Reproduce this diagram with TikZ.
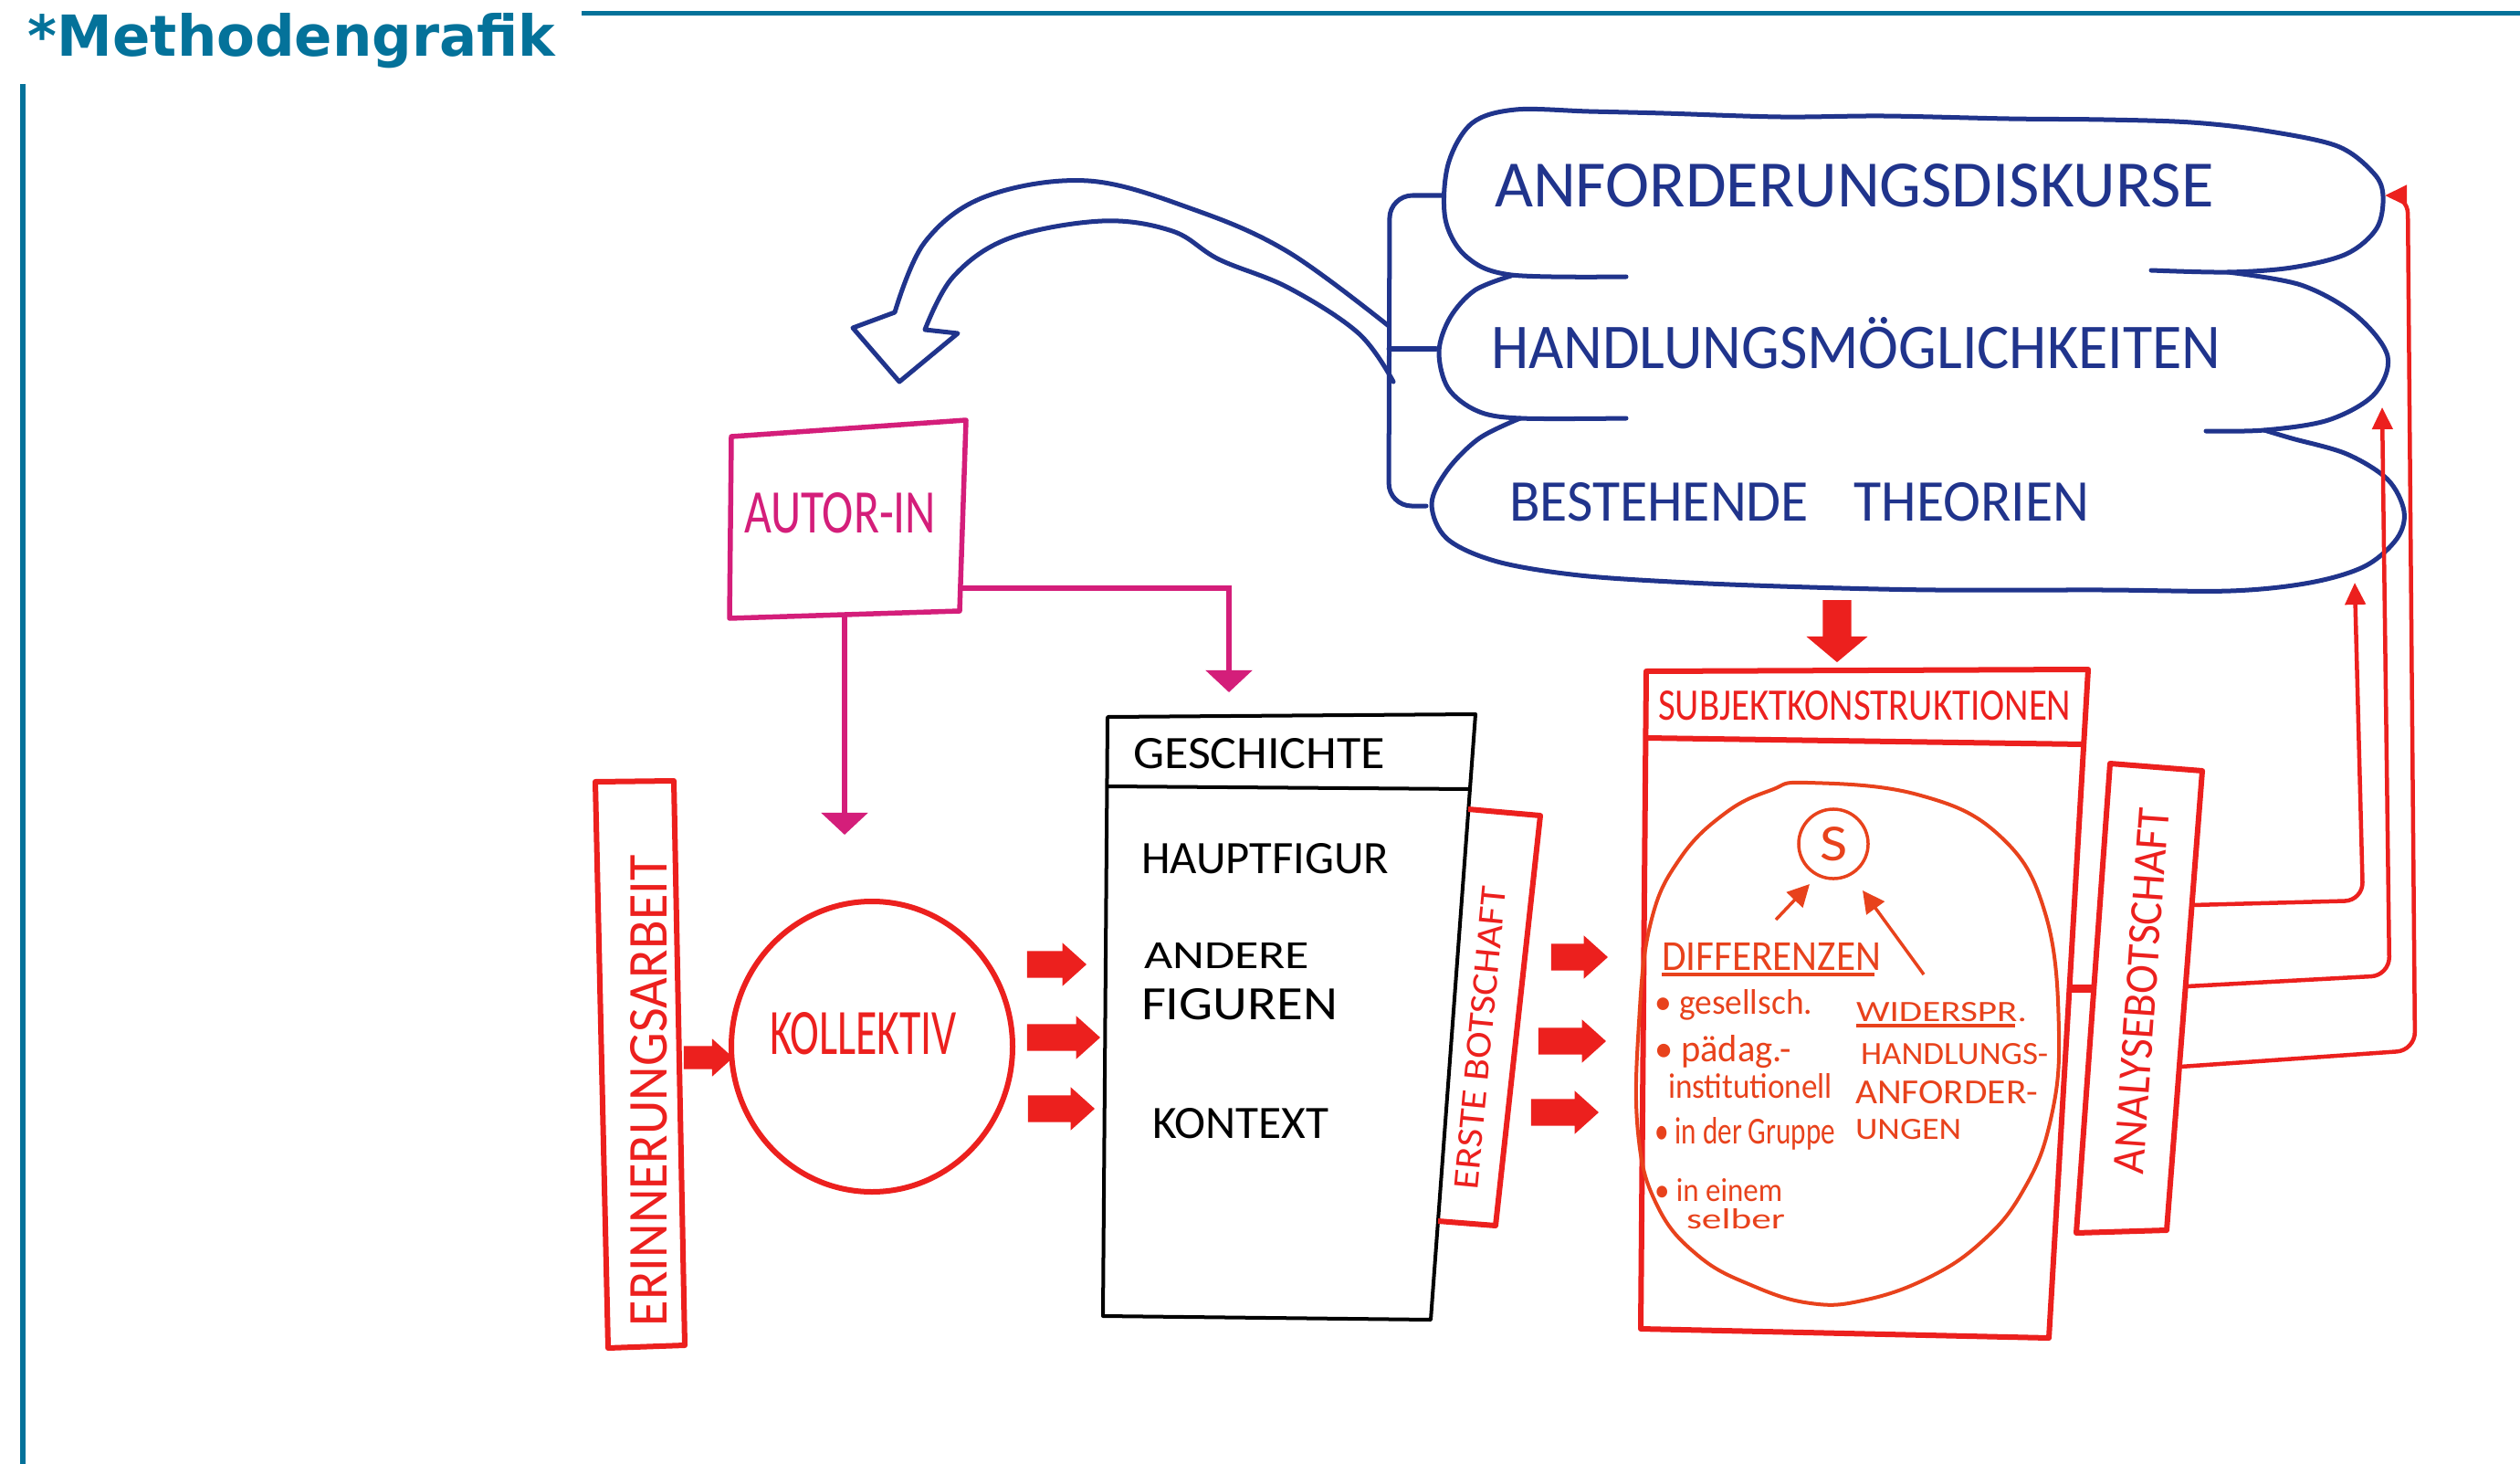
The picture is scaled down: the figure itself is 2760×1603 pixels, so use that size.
\documentclass[tikz,border=0pt]{standalone}
\usepackage{graphicx}
\usepackage{fontspec}
\setmainfont{Carlito}
\newfontfamily\kopffont{DejaVu Sans}
\usetikzlibrary{arrows.meta,shapes.arrows}

\definecolor{kopfblau}{RGB}{4,114,154}
\definecolor{tinte}{RGB}{32,52,140}
\definecolor{autorpink}{RGB}{212,30,122}
\definecolor{rot}{RGB}{236,32,30}
\definecolor{orangerot}{RGB}{232,66,28}

\tikzset{
    txt/.style={inner sep=0pt, outer sep=0pt, anchor=base west},
    wolke/.style={draw=tinte, line width=0.5mm, line cap=round, line join=round},
    rotbox/.style={draw=rot, line width=0.6mm, line join=round},
    blockpfeil/.style={single arrow, fill=rot, draw=none, inner xsep=0pt, inner ysep=1.4mm,
        single arrow head extend=0.9mm, single arrow tip angle=84, anchor=tip},
    pinkpfeil/.style={draw=autorpink, line width=0.55mm, -{Triangle[width=5mm,length=2.4mm]}},
    rueck/.style={draw=rot, line width=0.45mm, rounded corners=2mm,
        -{Triangle[width=2.2mm,length=2.4mm]}},
    spfeil/.style={draw=orangerot, line width=0.35mm, -{Triangle[width=2.4mm,length=2.4mm]}}
}

\begin{document}
\begin{tikzpicture}[x=0.01cm, y=-0.01cm]
    \useasboundingbox (0,0) rectangle (2760,1603);
    \fill[white] (0,0) rectangle (2760,1603);

    %Kopfzeile
    \node[txt, text=kopfblau, font=\kopffont\bfseries] (titel) at (31,62)
        {\resizebox{57.7mm}{4.7mm}{*Methodengrafik}};
    \draw[kopfblau, line width=0.5mm] (637,15) -- (2760,15);
    \draw[kopfblau, line width=0.5mm] (25,92) -- (25,1603);

    %Wolken
    \draw[wolke] plot[smooth, tension=0.55] coordinates {(1781,303) (1655,301) (1606,281)
        (1583,240) (1586,180) (1612,135) (1660,120) (1740,122) (1822,124) (1950,128)
        (2063,127) (2200,130) (2304,131) (2400,134) (2480,143) (2560,160) (2600,190)
        (2610,215) (2603,250) (2570,278) (2510,293) (2440,298) (2356,296)};
    \draw[wolke] plot[smooth, tension=0.55] coordinates {(1655,302) (1615,318) (1588,348)
        (1576,385) (1586,425) (1618,450) (1665,458) (1781,458)};
    \draw[wolke] plot[smooth, tension=0.55] coordinates {(2440,298) (2520,312) (2580,345)
        (2615,390) (2600,432) (2550,460) (2480,471) (2416,472)};
    \draw[wolke] plot[smooth, tension=0.55] coordinates {(1665,458) (1620,480) (1585,515)
        (1568,552) (1585,590) (1640,615) (1730,630) (1850,638) (1982,643) (2120,646)
        (2304,646) (2443,647) (2530,638) (2590,620) (2625,590) (2633,560) (2615,525)
        (2570,497) (2510,480) (2480,471)};

    \node[txt, text=tinte] (anf) at (1637,227)
        {\resizebox{78.7mm}{4.7mm}{ANFORDERUNGSDISKURSE}};
    \node[txt, text=tinte] (hand) at (1633,403)
        {\resizebox{79.9mm}{5.6mm}{HANDLUNGSMÖGLICHKEITEN}};
    \node[txt, text=tinte] (best) at (1653,570)
        {\resizebox{63.5mm}{4.2mm}{BESTEHENDE\hspace{0.8em}THEORIEN}};

    %Klammer und Rueckpfeil
    \draw[wolke, rounded corners=2.5mm] (1580,214) -- (1522,214) -- (1521,554) -- (1562,554);
    \draw[wolke] (1521,382) -- (1573,382);
    \draw[wolke] plot[smooth, tension=0.6] coordinates {(1521,357) (1411,276) (1309,230)
        (1192,198) (1080,215) (1013,265) (980,342)}
        -- (934,359) -- (985,418) -- (1049,365)
        -- plot[smooth, tension=0.6] coordinates {(1013,361) (1044,303) (1105,261)
        (1207,242) (1284,253) (1335,284) (1411,315) (1488,365) (1526,418)};

    %Autor-in
    \coordinate (au1) at (801,478);
    \coordinate (au2) at (1058,460);
    \coordinate (au3) at (1051,669);
    \coordinate (au4) at (799,677);
    \draw[autorpink, line width=0.55mm, line join=round] (au1) -- (au2) -- (au3) -- (au4) -- cycle;
    \node[txt, text=autorpink] (autor) at (815,583) {\resizebox{21mm}{4.4mm}{AUTOR-IN}};
    \coordinate (au-unten) at (925,675);
    \coordinate (koll-ein) at (925,914);
    \coordinate (au-rechts) at (1053,644);
    \coordinate (gesch-ein) at (1346,758);
    \draw[pinkpfeil] (au-unten) -- (koll-ein);
    \draw[pinkpfeil] (au-rechts) -| (gesch-ein);

    %Erinnerungsarbeit
    \draw[rotbox] (652,856) -- (738,855) -- (750,1473) -- (666,1476) -- cycle;
    \node[txt, text=rot, rotate=90] (erinn) at (730,1452)
        {\resizebox{51.5mm}{4mm}{ERINNERUNGSARBEIT}};
    \node[blockpfeil, minimum height=5.4mm, inner ysep=1.2mm, single arrow head extend=0.8mm] (ek) at (804,1158) {};

    %Kollektiv
    \draw[rot, line width=0.6mm] (955,1146) ellipse [x radius=154, y radius=159];
    \node[txt, text=rot] (koll) at (843,1154) {\resizebox{20.5mm}{4.6mm}{KOLLEKTIV}};
    \node[blockpfeil, minimum height=6.5mm] (kg1) at (1191,1056) {};
    \node[blockpfeil, minimum height=8mm] (kg2) at (1206,1136) {};
    \node[blockpfeil, minimum height=7.3mm] (kg3) at (1200,1214) {};

    %Geschichte
    \coordinate (g1) at (1213,785);
    \coordinate (g2) at (1616,782);
    \coordinate (g3) at (1567,1445);
    \coordinate (g4) at (1208,1441);
    \coordinate (gk1) at (1213,861);
    \coordinate (gk2) at (1610,864);
    \draw[black, line width=0.4mm, line join=round] (g1) -- (g2) -- (g3) -- (g4) -- cycle;
    \draw[black, line width=0.4mm] (gk1) -- (gk2);
    \node[txt] (gesch) at (1241,841) {\resizebox{27.6mm}{3.3mm}{GESCHICHTE}};
    \node[txt] (haupt) at (1250,956) {\resizebox{27.1mm}{3.3mm}{HAUPTFIGUR}};
    \node[txt] (andere) at (1253,1060) {\resizebox{18.1mm}{2.8mm}{ANDERE}};
    \node[txt] (figuren) at (1250,1116) {\resizebox{21.5mm}{3.4mm}{FIGUREN}};
    \node[txt] (kontext) at (1262,1246) {\resizebox{19.3mm}{3.3mm}{KONTEXT}};

    %Erste Botschaft
    \draw[rotbox] (1608,886) -- (1687,893) -- (1638,1342) -- (1575,1337);
    \node[txt, text=rot, rotate=84.5] (erste) at (1618,1303)
        {\resizebox{33.2mm}{2.6mm}{ERSTE BOTSCHAFT}};
    \node[blockpfeil, minimum height=6.2mm] (es1) at (1762,1048) {};
    \node[blockpfeil, minimum height=7.4mm] (es2) at (1760,1140) {};
    \node[blockpfeil, minimum height=7.4mm] (es3) at (1752,1218) {};

    %Subjektkonstruktionen
    \node[blockpfeil, minimum height=6.8mm, inner ysep=1.5mm, single arrow head extend=1.8mm,
        single arrow tip angle=100, rotate=-90] (ws) at (2012,726) {};
    \coordinate (s1) at (1803,735);
    \coordinate (s2) at (2287,733);
    \coordinate (s3) at (2244,1465);
    \coordinate (s4) at (1797,1455);
    \coordinate (sk1) at (1803,808);
    \coordinate (sk2) at (2282,815);
    \draw[rotbox] (s1) -- (s2) -- (s3) -- (s4) -- cycle;
    \draw[rotbox] (sk1) -- (sk2);
    \node[txt, text=rot] (subj) at (1816,788) {\resizebox{45.2mm}{3.2mm}{SUBJEKTKONSTRUKTIONEN}};

    \draw[orangerot, line width=0.4mm] plot[smooth cycle, tension=0.7] coordinates {(1980,857)
        (2100,870) (2190,915) (2240,1000) (2255,1130) (2245,1230) (2215,1305) (2170,1360)
        (2110,1400) (2040,1424) (1983,1427) (1920,1408) (1860,1375) (1815,1320) (1794,1240)
        (1795,1120) (1808,1010) (1840,940) (1890,890) (1940,865)};
    \node[circle, draw=orangerot, line width=0.35mm, minimum size=7.6mm, inner sep=0pt,
        text=orangerot] (s) at (2008,924) {\resizebox{3mm}{3.7mm}{S}};
    \coordinate (d-start) at (1945,1007);
    \coordinate (d-spitze) at (1982,968);
    \coordinate (w-start) at (2107,1067);
    \coordinate (w-spitze) at (2040,975);
    \draw[spfeil] (d-start) -- (d-spitze);
    \draw[spfeil] (w-start) -- (w-spitze);

    \node[txt, text=orangerot] (diff) at (1820,1062) {\resizebox{24mm}{3mm}{DIFFERENZEN}};
    \draw[orangerot, line width=0.4mm] ([yshift=-0.5mm]diff.base west) -- ([yshift=-0.5mm, xshift=-0.7mm]diff.base east);
    \node[txt, text=orangerot] (l1) at (1812,1110) {\resizebox{17.3mm}{2.7mm}{\textbullet\ gesellsch.}};
    \node[txt, text=orangerot] (l2) at (1812,1162) {\resizebox{15mm}{2.9mm}{\textbullet\ pädag.-}};
    \node[txt, text=orangerot] (l3) at (1827,1202) {\resizebox{18mm}{2.7mm}{institutionell}};
    \node[txt, text=orangerot] (l4) at (1812,1252) {\resizebox{19.8mm}{2.9mm}{\textbullet\ in der Gruppe}};
    \node[txt, text=orangerot] (l5) at (1812,1315) {\resizebox{14mm}{2.5mm}{\textbullet\ in einem}};
    \node[txt, text=orangerot] (l6) at (1847,1345) {\resizebox{10.8mm}{2.2mm}{selber}};

    \node[txt, text=orangerot] (wid) at (2033,1118) {\resizebox{18.7mm}{2.1mm}{WIDERSPR.}};
    \draw[orangerot, line width=0.4mm] ([yshift=-0.5mm]wid.base west) -- ([yshift=-0.5mm, xshift=-1.3mm]wid.base east);
    \node[txt, text=orangerot] (h2) at (2038,1165) {\resizebox{20.5mm}{2.3mm}{HANDLUNGS-}};
    \node[txt, text=orangerot] (a2) at (2032,1208) {\resizebox{20mm}{2.5mm}{ANFORDER-}};
    \node[txt, text=orangerot] (u2) at (2032,1247) {\resizebox{11.6mm}{2.2mm}{UNGEN}};

    %Analysebotschaft
    \coordinate (an1) at (2311,836);
    \coordinate (an2) at (2412,844);
    \coordinate (an3) at (2373,1347);
    \coordinate (an4) at (2274,1350);
    \draw[rotbox] (an1) -- (an2) -- (an3) -- (an4) -- cycle;
    \node[txt, text=rot, rotate=85.9] (analyse) at (2347,1286)
        {\resizebox{40.1mm}{3.3mm}{ANALYSEBOTSCHAFT}};
    \coordinate (subj-r) at (2266,1082);
    \coordinate (ana-l) at (2293,1082);
    \draw[rot, line width=0.9mm] (subj-r) -- (ana-l);

    %Rueckbezug
    \coordinate (ana-r1) at (2401,991);
    \coordinate (ana-r2) at (2395,1080);
    \coordinate (ana-r3) at (2388,1168);
    \coordinate (best-e) at (2579,638);
    \coordinate (hand-e) at (2609,446);
    \coordinate (anf-e) at (2612,214);
    \draw[rueck] (ana-r1) -- (2588,986) -- (best-e);
    \draw[rueck] (ana-r2) -- (2617,1068) -- (hand-e);
    \draw[rueck] (ana-r3) -- (2645,1150) -- (2637,214) -- (anf-e);

\end{tikzpicture}
\end{document}
